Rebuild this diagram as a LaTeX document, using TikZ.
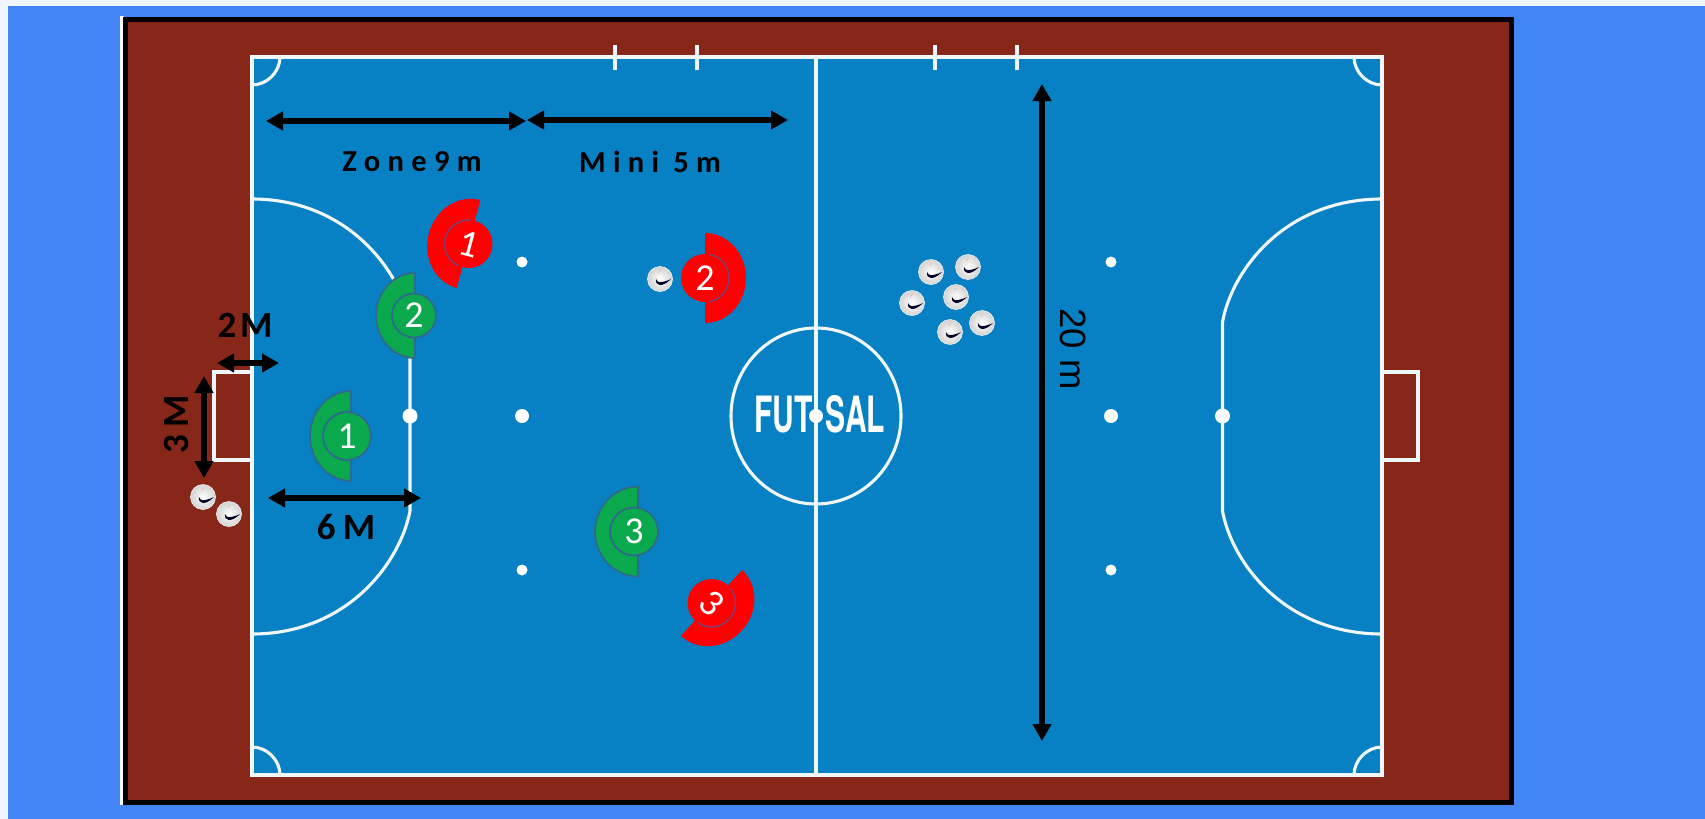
\documentclass[tikz,border=0pt]{standalone}
\usepackage{fontspec}
\usepackage{graphicx}
\setmainfont{Carlito}
\newfontfamily\heros{TeX Gyre Heros}
\newfontfamily\libs{Liberation Sans}
\usetikzlibrary{arrows.meta,calc}
\definecolor{pagebg}{HTML}{F1F5FE}
\definecolor{skyb}{HTML}{4285F4}
\definecolor{brownc}{HTML}{86271A}
\definecolor{pitchc}{HTML}{0780C4}
\definecolor{greenp}{HTML}{0BA94D}
\definecolor{redp}{HTML}{FE0000}
\definecolor{edgeg}{HTML}{2F6A8E}
\definecolor{edger}{HTML}{8A3A6A}
\tikzset{
  court/.style={draw=white!94!pitchc,line width=3.1pt},
  dim/.style={black,line width=5.5pt,{Triangle[length=17pt,width=18pt]}-{Triangle[length=17pt,width=18pt]}},
  spaced/.style={font=\fontsize{30.5}{32}\bfseries\addfontfeatures{LetterSpace=24}},
  dimtext/.style={font=\fontsize{37}{40}\bfseries},
  num/.style={text=white,font=\fontsize{38}{40}\selectfont,inner sep=0pt},
  spot/.style={circle,fill=white,inner sep=0pt,minimum size=#1},
}
\newcommand{\gplayer}[9]{%
  \begin{scope}[shift={(#2,#3)},rotate=#4]
    \fill[greenp,draw=edgeg,line width=1.8pt] (0,-#6) arc[start angle=-90,end angle=-270,x radius=#5,y radius=#6] -- cycle;
    \node[circle,fill=greenp,draw=edgeg,line width=1.8pt,minimum size=#8*2pt,inner sep=0pt] (#1) at (#7,0) {};
    \node[num] at (#1) {#9};
  \end{scope}}
\newcommand{\rplayer}[9]{%
  \begin{scope}[shift={(#2,#3)},rotate=#4]
    \fill[redp] (0,-#6) arc[start angle=-90,end angle=-270,x radius=#5,y radius=#6] -- cycle;
    \node[circle,fill=redp,minimum size=#8*2pt,inner sep=0pt] (#1) at (#7,0) {};
    \draw[edger,line width=1.6pt] (#7,0) ++(100:#8) arc[start angle=100,end angle=260,radius=#8];
  \end{scope}
  \node[num,rotate=\labrot] at (#1) {#9};}
\newcommand{\ball}[3]{%
  \node[circle,inner sep=0pt,minimum size=25pt,draw=white!92!gray,line width=.6pt,inner color=white,outer color=gray!35] (#1) at (#2,#3) {};
  \fill[black!85!blue] ($(#1)+(-4,0)$) .. controls ($(#1)+(-5,7)$) and ($(#1)+(2,9)$) .. ($(#1)+(11,0)$) .. controls ($(#1)+(6,2.5)$) and ($(#1)+(1,3.5)$) .. ($(#1)+(-1,3)$) .. controls ($(#1)+(-2,3)$) and ($(#1)+(-3,2)$) .. cycle;
  \fill[red!60,opacity=.5] ($(#1)+(-2,-6)$) -- ++(2,-3) -- ++(.6,.5) -- cycle;}
\begin{document}
\begin{tikzpicture}[x=1pt,y=-1pt]
\useasboundingbox (0,0) rectangle (1705,819);
\fill[pagebg] (0,0) rectangle (1705,819);
\fill[skyb] (8,6) rectangle (1705,819);
\fill[white] (120,16) rectangle (124,805);
\fill[brownc,draw=black,line width=5pt] (125.5,19) rectangle (1511.5,802.5);
% pitch
\fill[pitchc] (252,57) rectangle (1382,775);
\draw[court] (252,57) rectangle (1382,775);
\draw[court] (816,57) -- (816,775);
\coordinate (cc) at (816,416);
\draw[court] (cc) circle[x radius=85,y radius=88];
\foreach \a/\b/\s/\t in {252/57/1/1,1382/57/-1/1,252/775/1/-1,1382/775/-1/-1}{
  \draw[court] (\a+\s*28,\b) .. controls (\a+\s*28,\b+\t*15) and (\a+\s*15,\b+\t*28) .. (\a,\b+\t*28);
}
\foreach \x in {615,697,935,1017}{\draw[court] (\x,45) -- (\x,70);}
% goal areas
\draw[court] (252,199) .. controls (347,199) and (400,270) .. (410,322) -- (410,511) .. controls (400,563) and (347,634) .. (252,634);
\draw[court] (1382,199) .. controls (1285,199) and (1232,270) .. (1222.5,322) -- (1222.5,511) .. controls (1232,563) and (1285,634) .. (1382,634);
\draw[court] (252,372) -- (214,372) -- (214,460) -- (252,460);
\draw[court] (1382,372) -- (1418,372) -- (1418,460) -- (1382,460);
% spots
\node[spot=11pt] (s1) at (522,262) {};
\node[spot=14pt] (s2) at (522,416) {};
\node[spot=11pt] (s3) at (522,570) {};
\node[spot=11pt] (s4) at (1111,262) {};
\node[spot=14pt] (s5) at (1111,416) {};
\node[spot=11pt] (s6) at (1111,570) {};
\node[spot=15pt] (s7) at (410,416) {};
\node[spot=15pt] (s8) at (1222.5,416) {};
% logo
\node[text=white,inner sep=0pt] (logo) at (819.5,414) {\scalebox{.6}[1]{\fontsize{50}{52}\heros\bfseries FUT\hspace{22pt}SAL}};
\node[spot=14pt] (s9) at (cc) {};
% green players
\gplayer{g1}{351}{436}{0}{41}{45}{-4}{24}{1}
\gplayer{g2}{415}{315.5}{0}{39}{42.5}{-1}{22}{2}
\gplayer{g3}{638}{531.5}{0}{43}{45}{-4}{24}{3}
% red players
\def\labrot{-15}\rplayer{r1}{468.5}{244}{-15}{41}{45.5}{0}{24}{1}
\def\labrot{0}\rplayer{r2}{705}{278}{180}{41}{45}{0}{24}{2}
\def\labrot{-43}\rplayer{r3}{711.5}{603}{137}{41}{45}{0}{24}{3}
% balls
\ball{b1}{203}{497}\ball{b2}{229}{514}\ball{b3}{660}{279}
\ball{b4}{931}{272}\ball{b5}{968}{267}\ball{b6}{912}{303}
\ball{b7}{956}{297}\ball{b8}{982}{323}\ball{b9}{950}{332}
% dimension lines
\coordinate (zl) at (266,121); \coordinate (zr) at (526,121);
\coordinate (ml) at (527,120); \coordinate (mr) at (788,120);
\coordinate (twol) at (217,363); \coordinate (twor) at (279,363);
\coordinate (thrt) at (204,376); \coordinate (thrb) at (204,478);
\coordinate (sixl) at (268,498); \coordinate (sixr) at (421,498);
\coordinate (twt) at (1042,84); \coordinate (twb) at (1042,741);
\draw[dim] (zl) -- (zr);
\draw[dim] (ml) -- (mr);
\draw[dim] (twol) -- (twor);
\draw[dim] (thrt) -- (thrb);
\draw[dim] (sixl) -- (sixr);
\draw[dim] (twt) -- (twb);
\node[spaced] (tz) at (412,162) {Zone9m};
\node[spaced] (tm) at (650,162) {Mini 5m};
\node[dimtext,font=\fontsize{37}{40}\bfseries\addfontfeatures{LetterSpace=10}] (t2) at (245,325) {2M};
\node[dimtext,font=\fontsize{37}{40}\bfseries\addfontfeatures{LetterSpace=20},rotate=90] (t3) at (176,424) {3M};
\node[dimtext,font=\fontsize{37}{40}\bfseries\addfontfeatures{LetterSpace=20}] (t6) at (346,527) {6M};
\node[font=\fontsize{36.5}{39}\libs,rotate=-90] (t20) at (1073,349) {20 m};
\end{tikzpicture}
\end{document}
